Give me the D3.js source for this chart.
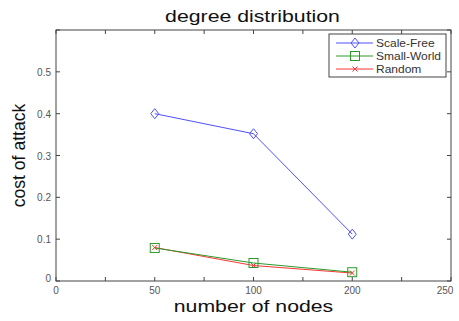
<!DOCTYPE html>
<html>
<head>
<meta charset="utf-8">
<script src="https://cdn.jsdelivr.net/npm/d3@7"></script>
<style>
  html, body { margin: 0; padding: 0; background: #fff; overflow: hidden; }
  svg { display: block; font-family: "Liberation Sans", Arial, sans-serif; }
</style>
</head>
<body>
<svg id="chart"></svg>
<script>
// x is plotted by position, labelled with node counts
const xTickLabels = ['0', '50', '100', '200', '250'];
const xPositions = [1, 2, 3];
const yTicks = [0, 0.1, 0.2, 0.3, 0.4, 0.5];

const scaleFree = [0.40, 0.352, 0.112];
const smallWorld = [0.079, 0.043, 0.021];
const randomNet = [0.080, 0.037, 0.019];

const seriesNames = ['Scale-Free', 'Small-World', 'Random'];

const width = 459, height = 321;
const margin = { top: 30, left: 56, right: 8, bottom: 40 };
const innerWidth = width - margin.left - margin.right;
const innerHeight = height - margin.top - margin.bottom;

const svg = d3.select('#chart')
    .attr('width', width)
    .attr('height', height);

const g = svg.append('g')
    .attr('transform', `translate(${margin.left},${margin.top})`);

const xScale = d3.scaleLinear().domain([0, 4]).range([0, innerWidth]);
const yScale = d3.scaleLinear().domain([0, 0.6]).range([innerHeight, 0]);

const axisColor = '#444';
const labelColor = '#555';

// the picture is a bit wider than tall, so stretch text horizontally
const stretchText = (parent, x, y, size, sx, txt, anchor) =>
    parent.append('text')
        .attr('transform', `translate(${x},${y}) scale(${sx},1)`)
        .attr('text-anchor', anchor || 'middle')
        .attr('font-size', size)
        .text(txt);

// frame
g.append('rect')
    .attr('width', innerWidth)
    .attr('height', innerHeight)
    .attr('fill', 'none')
    .attr('stroke', axisColor)
    .attr('stroke-width', 1);

// x ticks (every 0.5 position, bottom and top)
const xTickVals = d3.range(0, 4.01, 0.5);
g.selectAll('.xtick-b')
    .data(xTickVals)
    .join('line')
        .attr('class', 'xtick-b')
        .attr('x1', d => xScale(d)).attr('x2', d => xScale(d))
        .attr('y1', innerHeight).attr('y2', innerHeight - 4)
        .attr('stroke', axisColor);
g.selectAll('.xtick-t')
    .data(xTickVals)
    .join('line')
        .attr('class', 'xtick-t')
        .attr('x1', d => xScale(d)).attr('x2', d => xScale(d))
        .attr('y1', 0).attr('y2', 4)
        .attr('stroke', axisColor);

g.selectAll('.xlabel')
    .data(xTickLabels)
    .join('text')
        .attr('class', 'xlabel')
        .attr('x', (d, i) => Math.min(xScale(i), innerWidth - 6))
        .attr('y', innerHeight + 13)
        .attr('text-anchor', 'middle')
        .attr('font-size', 10)
        .attr('fill', labelColor)
        .text(d => d);

// y ticks (left and right)
const yTickVals = d3.range(0, 0.61, 0.1);
g.selectAll('.ytick-l')
    .data(yTickVals)
    .join('line')
        .attr('class', 'ytick-l')
        .attr('x1', 0).attr('x2', 4)
        .attr('y1', d => yScale(d)).attr('y2', d => yScale(d))
        .attr('stroke', axisColor);
g.selectAll('.ytick-r')
    .data(yTickVals)
    .join('line')
        .attr('class', 'ytick-r')
        .attr('x1', innerWidth).attr('x2', innerWidth - 4)
        .attr('y1', d => yScale(d)).attr('y2', d => yScale(d))
        .attr('stroke', axisColor);

g.selectAll('.ylabel')
    .data(yTicks)
    .join('text')
        .attr('class', 'ylabel')
        .attr('x', -5)
        .attr('y', d => yScale(d) + (d === 0 ? 1 : 4))
        .attr('text-anchor', 'end')
        .attr('font-size', 10)
        .attr('fill', labelColor)
        .text(d => d === 0 ? '0' : d3.format('.1f')(d));

// titles
stretchText(svg, margin.left + innerWidth / 2 - 1, 22, 17, 1.25, 'degree distribution')
    .attr('fill', '#111');

stretchText(svg, margin.left + innerWidth / 2, 312, 17, 1.25, 'number of nodes')
    .attr('fill', '#111');

svg.append('text')
    .attr('transform', `translate(25,${margin.top + innerHeight / 2}) rotate(-90)`)
    .attr('text-anchor', 'middle')
    .attr('font-size', 17.6)
    .attr('fill', '#111')
    .text('cost of attack');

// series
const series = [
    { name: seriesNames[0], values: scaleFree, color: '#5050ff', marker: 'diamond' },
    { name: seriesNames[1], values: smallWorld, color: '#2a9a2a', marker: 'square' },
    { name: seriesNames[2], values: randomNet, color: '#ff3535', marker: 'x' }
];

const line = d3.line()
    .x((d, i) => xScale(xPositions[i]))
    .y(d => yScale(d));

function drawMarker(sel, type, color) {
    if (type === 'diamond') {
        sel.append('path')
            .attr('d', 'M0,-5L4,0L0,5L-4,0Z')
            .attr('fill', 'none').attr('stroke', color);
    } else if (type === 'square') {
        sel.append('rect')
            .attr('x', -4.5).attr('y', -4.5).attr('width', 9).attr('height', 9)
            .attr('fill', 'none').attr('stroke', color);
    } else {
        sel.append('path')
            .attr('d', 'M-2.5,-2.5L2.5,2.5M-2.5,2.5L2.5,-2.5')
            .attr('fill', 'none').attr('stroke', color);
    }
}

// draw back to front: random, small-world, scale-free
series.slice().reverse().forEach(s => {
    g.append('path')
        .datum(s.values)
        .attr('d', line)
        .attr('fill', 'none')
        .attr('stroke', s.color)
        .attr('stroke-width', 1);
    s.values.forEach((v, i) => {
        const m = g.append('g')
            .attr('transform', `translate(${xScale(xPositions[i])},${yScale(v)})`);
        drawMarker(m, s.marker, s.color);
    });
});

// legend
const legend = svg.append('g').attr('transform', 'translate(329,34)');
legend.append('rect')
    .attr('width', 117).attr('height', 43)
    .attr('fill', '#fff')
    .attr('stroke', axisColor);

series.forEach((s, i) => {
    const row = legend.append('g').attr('transform', `translate(0,${9 + i * 13})`);
    row.append('line')
        .attr('x1', 7).attr('x2', 44)
        .attr('stroke', s.color);
    const m = row.append('g').attr('transform', 'translate(26,0)');
    drawMarker(m, s.marker, s.color);
    stretchText(row, 47, 4, 10, 1.2, s.name, 'start')
        .attr('fill', '#333');
});
</script>
</body>
</html>
